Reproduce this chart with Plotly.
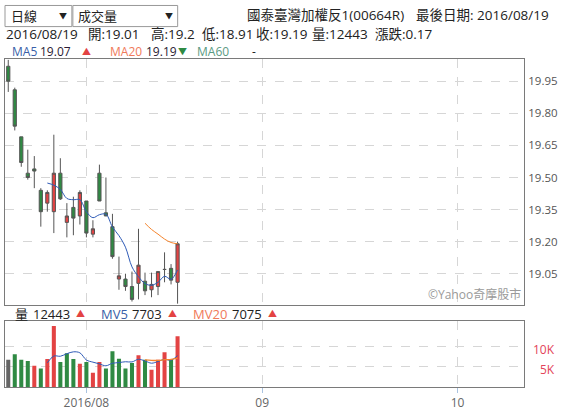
import plotly.graph_objects as go
from datetime import date

# ---------------- data ----------------
dates = ["2016-07-14", "2016-07-15", "2016-07-18", "2016-07-19", "2016-07-20", "2016-07-21",
         "2016-07-22", "2016-07-25", "2016-07-26", "2016-07-27", "2016-07-28", "2016-07-29",
         "2016-08-01", "2016-08-02", "2016-08-03", "2016-08-04", "2016-08-05", "2016-08-08",
         "2016-08-09", "2016-08-10", "2016-08-11", "2016-08-12", "2016-08-15", "2016-08-16",
         "2016-08-17", "2016-08-18", "2016-08-19"]
opens = [20.02, 19.91, 19.69, 19.52, 19.54, 19.44, 19.38, 19.34, 19.52, 19.29, 19.36, 19.32,
         19.39, 19.235, 19.52, 19.335, 19.27, 19.025, 19.025, 18.99, 19.005, 19.015, 18.975,
         18.99, 19.07, 19.075, 19.01]
highs = [20.05, 19.92, 19.69, 19.63, 19.60, 19.45, 19.44, 19.70, 19.59, 19.38, 19.41, 19.44,
         19.39, 19.30, 19.56, 19.50, 19.33, 19.13, 19.05, 19.06, 19.26, 19.055, 19.055, 19.06,
         19.15, 19.095, 19.20]
lows = [19.90, 19.72, 19.55, 19.49, 19.45, 19.27, 19.34, 19.24, 19.395, 19.22, 19.23, 19.28,
        19.22, 19.22, 19.39, 19.32, 19.12, 18.975, 18.97, 18.92, 18.93, 18.95, 18.94, 18.95,
        19.01, 19.00, 18.91]
closes = [19.95, 19.74, 19.57, 19.50, 19.53, 19.34, 19.43, 19.52, 19.40, 19.32, 19.31, 19.43,
          19.24, 19.26, 19.39, 19.32, 19.13, 19.04, 18.99, 18.93, 19.09, 18.97, 19.00, 19.06,
          19.07, 19.02, 19.19]
volumes = [6700, 8050, 6700, 6380, 5190, 4560, 6860, 14950, 6140, 8290, 6860, 5670, 6140, 3500,
           6140, 4560, 8760, 6940, 4560, 5910, 7810, 6700, 4200, 6680, 8500, 6690, 12443]
ma5 = [None] * 6 + [19.474, 19.464, 19.444, 19.402, 19.396, 19.396, 19.34, 19.312, 19.326,
                    19.328, 19.268, 19.228, 19.174, 19.082, 19.036, 19.004, 18.996, 19.01,
                    19.038, 19.024, 19.068]
ma20 = [None] * 21 + [19.286, 19.257, 19.235, 19.212, 19.196, 19.19]
mv5 = [None] * 6 + [5938, 7588, 7540, 8160, 8620, 8382, 6620, 6092, 5662, 5202, 5820, 5980,
                    6192, 6146, 6796, 6384, 5836, 6260, 6778, 6554, 7703]
mv20 = [None] * 21 + [6631, 6506, 6521, 6687, 6793, 7075]

tick_dates = ["2016-08-01", "2016-09-01", "2016-10-01"]
tick_labels = ["2016/08", "09", "10"]
price_ticks = [19.05, 19.20, 19.35, 19.50, 19.65, 19.80, 19.95]
vol_ticks = [5000, 10000]
vol_tick_labels = ["5K", "10K"]

RED = "#e34343"
GREEN = "#2f8a43"
GRAY = "#666666"
FONT = "Open Sans, Noto Sans CJK TC"

# trading days are indexed; future dates are laid out by calendar days
xs = list(range(len(dates)))
last = date.fromisoformat(dates[-1])


def xpos(d):
    if d in dates:
        return dates.index(d)
    return len(dates) - 1 + (date.fromisoformat(d) - last).days


tickpos = [xpos(d) for d in tick_dates]

vol_colors = [GRAY] + [RED if closes[i] > closes[i - 1] else GREEN for i in range(1, len(closes))]

W, H = 564, 415
ML, MR, MT, MB = 4, 40, 59, 22
PW, PH = W - ML - MR, H - MT - MB


def px(x):
    return (x - ML) / PW


def py(y):
    return (H - MB - y) / PH


fig = go.Figure()
fig.add_trace(go.Candlestick(
    x=xs, open=opens, high=highs, low=lows, close=closes,
    increasing=dict(fillcolor=RED, line=dict(color="#555555", width=1)),
    decreasing=dict(fillcolor=GREEN, line=dict(color="#555555", width=1)),
    whiskerwidth=0, showlegend=False, xaxis="x", yaxis="y"))
fig.add_trace(go.Scatter(x=xs, y=ma5, mode="lines", line=dict(color="#2f5bb7", width=1, shape="spline"),
                         showlegend=False, xaxis="x", yaxis="y"))
fig.add_trace(go.Scatter(x=xs, y=ma20, mode="lines", line=dict(color="#f5842c", width=1, shape="spline"),
                         showlegend=False, xaxis="x", yaxis="y"))
fig.add_trace(go.Bar(x=xs, y=volumes, marker=dict(color=vol_colors, line=dict(width=0)),
                     showlegend=False, xaxis="x2", yaxis="y2"))
fig.add_trace(go.Scatter(x=xs, y=mv5, mode="lines", line=dict(color="#2f5bb7", width=1, shape="spline"),
                         showlegend=False, xaxis="x2", yaxis="y2"))
fig.add_trace(go.Scatter(x=xs, y=mv20, mode="lines", line=dict(color="#f5842c", width=1.3, shape="spline"),
                         showlegend=False, xaxis="x2", yaxis="y2"))

xr = [-0.5, 79.2]
axis_line = dict(showline=True, mirror=True, linecolor="#7a7a7a", linewidth=1, zeroline=False)
grid = dict(showgrid=True, gridcolor="#d6d6d6", griddash="dash", gridwidth=1)

fig.update_layout(
    width=W, height=H, margin=dict(l=ML, r=MR, t=MT, b=MB),
    paper_bgcolor="white", plot_bgcolor="white", bargap=0.38,
    font=dict(family=FONT, size=12, color="#333"),
    xaxis=dict(domain=[0, 1], range=xr, anchor="y", tickvals=tickpos, showticklabels=False,
               ticks="", rangeslider=dict(visible=False), **axis_line, **grid),
    yaxis=dict(domain=[py(309), 1], range=[18.906, 20.054], side="right", tickvals=price_ticks,
               tickformat=".2f", tickfont=dict(size=11.5, color="#555"), ticks="",
               ticklabelstandoff=1, anchor="x", **axis_line, **grid),
    xaxis2=dict(domain=[0, 1], range=xr, anchor="y2", matches="x", tickvals=tickpos,
                ticktext=tick_labels, ticks="outside", ticklen=5, tickcolor="#a9c3e0",
                tickfont=dict(size=12, color="#666"), **axis_line, **grid),
    yaxis2=dict(domain=[0, py(325.5)], range=[0, 16250], side="right", tickvals=vol_ticks,
                showticklabels=False, ticks="", anchor="x2", **axis_line, **grid),
)

ann = []


def text(x, y, s, color="#333", size=12, anchor="left"):
    ann.append(dict(xref="paper", yref="paper", x=px(x), y=py(y), text=s, showarrow=False,
                    xanchor=anchor, yanchor="middle", borderpad=0,
                    font=dict(family=FONT, size=size, color=color)))


# dropdown boxes
shapes = []
for x0, x1 in [(4, 71), (72, 177)]:
    shapes.append(dict(type="rect", xref="paper", yref="paper", x0=px(x0), x1=px(x1),
                       y0=py(26), y1=py(4.5), line=dict(color="#999", width=1), fillcolor="white"))
text(9, 15.5, "日線", "#222", 13)
text(62, 15, "▼", "#222", 8, "center")
text(76, 15.5, "成交量", "#222", 13)
text(168, 15, "▼", "#222", 8, "center")

# header rows
text(245, 14.5, "國泰臺灣加權反1(00664R)", "#222", 13.5)
text(415, 14.5, "最後日期: 2016/08/19", "#222", 13.5)
for x, s in [(4, "2016/08/19"), (86, "開:19.01"), (149, "高:19.2"), (200, "低:18.91"),
             (254, "收:19.19"), (311, "量:12443"), (374, "漲跌:0.17")]:
    text(x, 33.5, s, "#222", 13.5)

# MA row
text(10, 51, "MA5", "#3a5fa8", 12)
text(38, 51, "19.07", "#2a1a33", 12)
text(86, 51, "▲", RED, 9, "center")
text(108, 51, "MA20", "#f07a5a", 12)
text(144, 51, "19.19", "#2a1a33", 12)
text(182, 51, "▼", GREEN, 9, "center")
text(195, 51, "MA60", "#5a9a82", 12)
text(250, 51, "-", "#222", 12)

# volume row
text(13, 318.5, "量", "#222", 13)
text(31, 318.5, "12443", "#222", 13)
text(80, 318.5, "▲", RED, 9, "center")
text(99, 318.5, "MV5", "#3a5fa8", 13)
text(130, 318.5, "7703", "#222", 13)
text(172, 318.5, "▲", RED, 9, "center")
text(191, 318.5, "MV20", "#f07a5a", 13)
text(230, 318.5, "7075", "#222", 13)
text(272, 318.5, "▲", RED, 9, "center")

# watermark
text(522, 299, "©Yahoo奇摩股市", "#9a9a9a", 12, "right")

# volume tick labels (right aligned)
for v, lab in zip(vol_ticks, vol_tick_labels):
    ann.append(dict(xref="paper", yref="y2", x=px(556), y=v, text=lab, showarrow=False,
                    xanchor="right", yanchor="middle", borderpad=0, yshift=-3,
                    font=dict(family=FONT, size=12, color="#e3435a")))

fig.update_layout(annotations=ann, shapes=shapes)
fig.write_html("out.html")
